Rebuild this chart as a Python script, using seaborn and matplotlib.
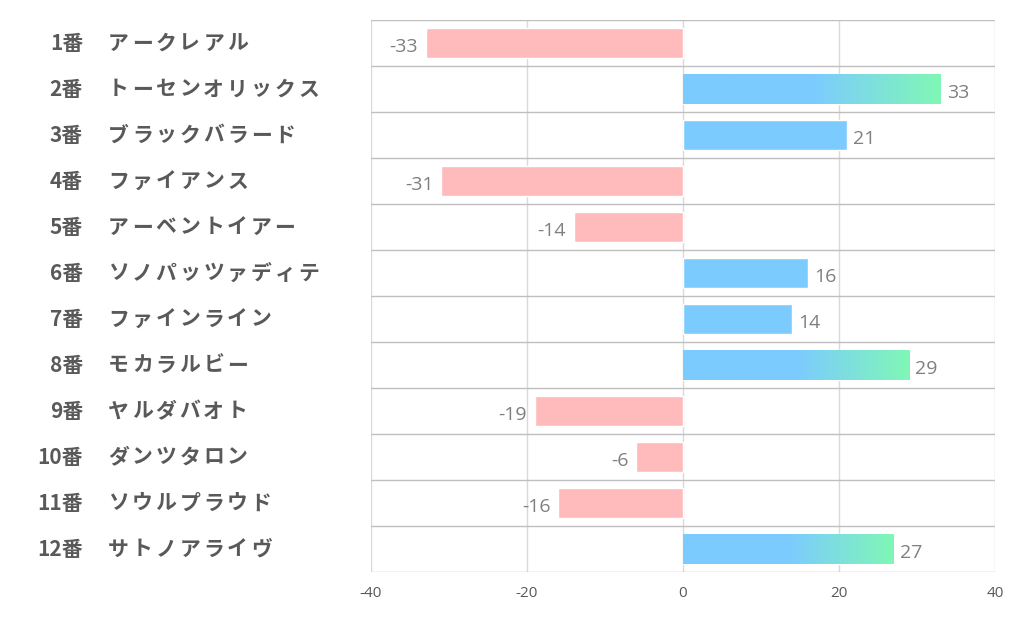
import numpy as np
import pandas as pd
import matplotlib
matplotlib.use("Agg")
import matplotlib.pyplot as plt
import matplotlib.transforms as mtransforms
from matplotlib.colors import LinearSegmentedColormap
import seaborn as sns

numbers = ["1番", "2番", "3番", "4番", "5番", "6番", "7番", "8番", "9番", "10番", "11番", "12番"]
horses = ["アークレアル", "トーセンオリックス", "ブラックバラード", "ファイアンス", "アーベントイアー",
          "ソノパッツァディテ", "ファインライン", "モカラルビー", "ヤルダバオト", "ダンツタロン",
          "ソウルプラウド", "サトノアライヴ"]
values = [-33, 33, 21, -31, -14, 16, 14, 29, -19, -6, -16, 27]
xticks = [-40, -20, 0, 20, 40]

BLUE = "#7ccbff"
GREEN = "#80f7b6"
PINK = "#ffbbbb"
TEXT = "#595959"
VAL = "#7f7f7f"

sns.set_theme(style="white")
plt.rcParams['font.family'] = ['Noto Sans CJK JP', 'DejaVu Sans']

df = pd.DataFrame({"key": numbers, "value": values})
palette = {k: (BLUE if v >= 0 else PINK) for k, v in zip(numbers, values)}

W, H = 1022, 626
fig = plt.figure(figsize=(W / 100, H / 100), dpi=100)
ax = fig.add_axes([371 / W, 1 - 572 / H, (995 - 371) / W, (572 - 20) / H])

sns.barplot(data=df, x="value", y="key", hue="key", palette=palette, orient="h",
            width=0.65, legend=False, ax=ax, saturation=1)

ax.set_xlim(-40, 40)
ax.set_ylim(len(values) - 0.5, -0.5)
ax.set_xticks(xticks)
ax.set_xticklabels([str(t) for t in xticks], color=TEXT, fontsize=11,
                   family=['Open Sans', 'DejaVu Sans'])
ax.tick_params(axis="x", length=0, pad=10)
ax.set_yticks([])
ax.set_xlabel("")
ax.set_ylabel("")
for s in ax.spines.values():
    s.set_visible(False)

# grid
for t in xticks:
    ax.axvline(t, color="#d9d9d9", lw=1, zorder=0)
for b in np.arange(-0.5, len(values), 1.0):
    ax.axhline(b, color="#bfbfbf", lw=1, zorder=0.5)

# gradient on longest positive bars
cmap = LinearSegmentedColormap.from_list("bg", [BLUE, BLUE, GREEN], N=256)
grad = np.linspace(0, 1, 256).reshape(1, -1)
for patch, v in zip(ax.patches, values):
    if v >= 25:
        x0, y0 = patch.get_x(), patch.get_y()
        w, h = patch.get_width(), patch.get_height()
        im = ax.imshow(grad, cmap=cmap, aspect="auto",
                       extent=[x0, x0 + w, y0 + h, y0], zorder=patch.get_zorder() + 0.1)
        im.set_clip_path(patch)
ax.set_xlim(-40, 40)
ax.set_ylim(len(values) - 0.5, -0.5)

# value labels
for i, v in enumerate(values):
    if v >= 0:
        ax.text(v + 0.8, i + 0.08, str(v), ha="left", va="center", color=VAL, fontsize=14,
                family=['Open Sans', 'DejaVu Sans'])
    else:
        ax.text(v - 1.0, i + 0.08, str(v), ha="right", va="center", color=VAL, fontsize=14,
                family=['Open Sans', 'DejaVu Sans'])

# category labels (with letter spacing like the reference)
FS = 15
ADV = 23.8  # px per full-width character
trans = mtransforms.blended_transform_factory(fig.transFigure, ax.transData)
for i, (n, h) in enumerate(zip(numbers, horses)):
    ax.text(83 / W, i, n, transform=trans, ha="right", va="center", color=TEXT,
            fontsize=FS, fontweight="bold", clip_on=False)
    for k, ch in enumerate(h):
        ax.text((108 + k * ADV) / W, i, ch, transform=trans, ha="left", va="center",
                color=TEXT, fontsize=FS, fontweight="bold", clip_on=False)

fig.savefig("out.png", dpi=100)
